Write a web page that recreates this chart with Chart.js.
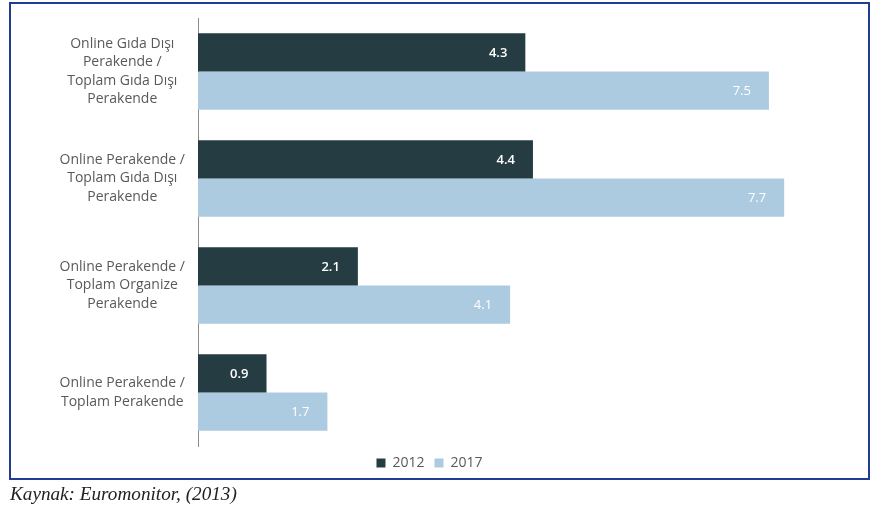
<!DOCTYPE html>
<html>
<head>
<meta charset="utf-8">
<script src="https://cdn.jsdelivr.net/npm/chart.js@4.4.1/dist/chart.umd.min.js"></script>
<style>
html,body{margin:0;padding:0;background:#fff;width:877px;height:508px;overflow:hidden;}
#frame{position:absolute;left:9px;top:2px;width:857px;height:474px;border:2px solid #1f3d93;}
#wrap{position:absolute;left:0;top:0;width:877px;height:508px;}
#cap{position:absolute;left:10px;top:483px;font-family:"Liberation Serif","DejaVu Serif",serif;font-style:italic;font-size:19.2px;color:#222;}
</style>
</head>
<body>
<div id="frame"></div>
<div id="wrap"><canvas id="c" width="877" height="508"></canvas></div>
<div id="cap">Kaynak: Euromonitor, (2013)</div>
<script>
const categories = [
  ["Online Gıda Dışı", "Perakende /", "Toplam Gıda Dışı", "Perakende"],
  ["Online Perakende /", "Toplam Gıda Dışı", "Perakende"],
  ["Online Perakende /", "Toplam Organize", "Perakende"],
  ["Online Perakende /", "Toplam Perakende"]
];
const seriesNames = ["2012", "2017"];
const values2012 = [4.3, 4.4, 2.1, 0.9];
const values2017 = [7.5, 7.7, 4.1, 1.7];

const valueLabels = {
  id: 'valueLabels',
  afterDatasetsDraw(chart) {
    const ctx = chart.ctx;
    chart.data.datasets.forEach((ds, di) => {
      const meta = chart.getDatasetMeta(di);
      meta.data.forEach((bar, i) => {
        ctx.save();
        ctx.fillStyle = '#ffffff';
        ctx.font = (di === 0 ? '600 ' : '400 ') + '13px "Open Sans"';
        ctx.textAlign = 'right';
        ctx.textBaseline = 'middle';
        ctx.fillText(ds.data[i].toFixed(1), bar.x - 18, bar.y + 1);
        ctx.restore();
      });
    });
  }
};

new Chart(document.getElementById('c'), {
  type: 'bar',
  data: {
    labels: categories,
    datasets: [
      { label: seriesNames[0], data: values2012, backgroundColor: '#243c42', borderWidth: 0 },
      { label: seriesNames[1], data: values2017, backgroundColor: '#adcbe0', borderWidth: 0 }
    ]
  },
  options: {
    indexAxis: 'y',
    responsive: false,
    animation: false,
    events: [],
    layout: { padding: { left: 52, right: 70, top: 18, bottom: 28 } },
    datasets: { bar: { categoryPercentage: 0.716, barPercentage: 1.0 } },
    scales: {
      x: { display: false, min: 0, max: 8 },
      y: {
        grid: { display: false, drawTicks: false },
        border: { display: true, color: '#8c8c8c', width: 1 },
        ticks: {
          crossAlign: 'center',
          padding: 13,
          color: '#595959',
          font: { family: '"Open Sans"', size: 14, lineHeight: 1.33 }
        },
        afterFit(scale) { scale.width = 146; scale.paddingTop = 0; scale.paddingBottom = 0; }
      }
    },
    plugins: {
      legend: {
        position: 'bottom',
        labels: {
          boxWidth: 9, boxHeight: 9, padding: 10,
          color: '#595959',
          font: { family: '"Open Sans"', size: 14 }
        }
      },
      tooltip: { enabled: false }
    }
  },
  plugins: [valueLabels]
});
</script>
</body>
</html>
